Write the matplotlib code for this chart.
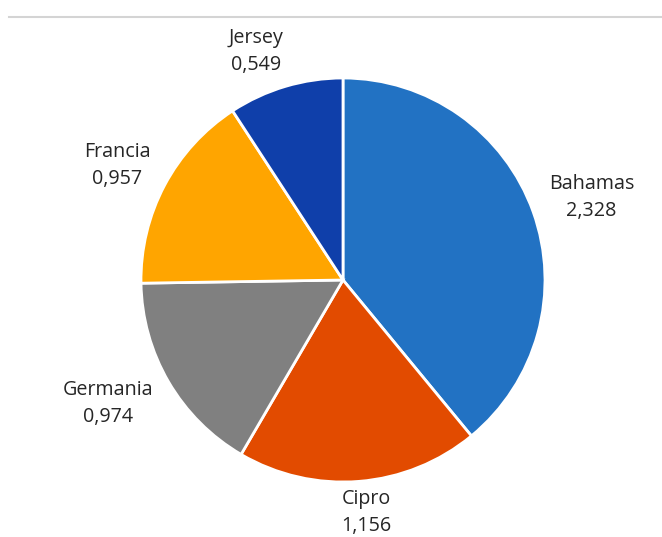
import numpy as np
import matplotlib
matplotlib.use("Agg")
import matplotlib.pyplot as plt
from matplotlib.lines import Line2D

# Country shares
countries = ["Bahamas", "Cipro", "Germania", "Francia", "Jersey"]
values = [2.328, 1.156, 0.974, 0.957, 0.549]
value_labels = ["2,328", "1,156", "0,974", "0,957", "0,549"]
colors = ["#2272C3", "#E24B00", "#808080", "#FFA500", "#0F3FAA"]

plt.rcParams["font.family"] = ["Open Sans", "DejaVu Sans"]

W, H = 662, 537
fig = plt.figure(figsize=(W / 100, H / 100), dpi=100)
fig.patch.set_facecolor("white")

# thin rule across the top
fig.add_artist(Line2D([9 / W, 1.0], [1 - 16.5 / H, 1 - 16.5 / H],
                      color="#d4d4d4", lw=1.5, transform=fig.transFigure))

cx, cy, R = 343, 280, 202
ax = fig.add_axes([(cx - R) / W, (H - cy - R) / H, 2 * R / W, 2 * R / H])
ax.set_aspect("equal")
wedges, _ = ax.pie(values, colors=colors, startangle=90, counterclock=False,
                   radius=1.0,
                   wedgeprops=dict(edgecolor="white", linewidth=2))
ax.set_xlim(-1, 1)
ax.set_ylim(-1, 1)
ax.axis("off")

# labels outside each wedge: anchor just past the rim on the mid-angle,
# text box slid outward depending on the direction
fig.canvas.draw()
renderer = fig.canvas.get_renderer()
gap = 12
for w, name, lab in zip(wedges, countries, value_labels):
    mid = np.deg2rad((w.theta1 + w.theta2) / 2)
    ux, uy = np.cos(mid), np.sin(mid)
    t = ax.text(0, 0, f"{name}\n{lab}", ha="center", va="center",
                fontsize=14.2, color="#262626", linespacing=1.45,
                clip_on=False)
    bb = t.get_window_extent(renderer)
    hw, hh = bb.width / 2, bb.height / 2
    fx = np.clip(3.3 * ux, -1.1, 1.1)
    fy = np.clip(1.3 * uy, -0.82, 1.0)
    px = (R + gap) * ux + fx * hw
    py = (R + gap) * uy + fy * hh
    t.set_position((px / R, py / R))

fig.savefig("out.png", dpi=100, facecolor="white")
